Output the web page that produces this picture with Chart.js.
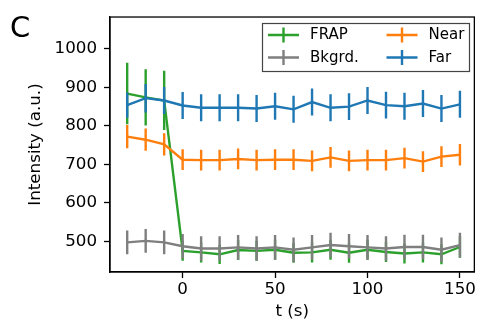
<!DOCTYPE html>
<html>
<head>
<meta charset="utf-8">
<script src="https://cdn.jsdelivr.net/npm/chart.js@4"></script>
<style>
  body { margin: 0; background: #fff; }
  canvas { display: block; }
</style>
</head>
<body>
<canvas id="myChart" width="478" height="329"></canvas>
<script>
// time points (s)
const times = [-30, -20, -10, 0, 10, 20, 30, 40, 50, 60, 70, 80, 90, 100, 110, 120, 130, 140, 150];

const frap = [884, 874, 866, 475, 471, 466, 477, 475, 478, 470, 471, 478, 470, 478, 472, 468, 471, 466, 485];
const frapErr = [80, 73, 77, 26, 26, 25, 26, 26, 26, 26, 26, 26, 26, 26, 26, 26, 26, 26, 28];

const bkgrd = [497, 501, 497, 487, 481, 481, 484, 481, 484, 478, 484, 490, 487, 484, 481, 485, 485, 478, 490];
const bkgrdErr = [31, 31, 31, 32, 32, 32, 32, 32, 32, 32, 32, 32, 32, 32, 32, 32, 32, 32, 32];

const near = [772, 764, 752, 712, 711, 711, 714, 711, 712, 712, 709, 718, 709, 711, 711, 716, 707, 720, 725];
const nearErr = [30, 29, 29, 27, 27, 27, 27, 27, 27, 27, 27, 27, 27, 27, 27, 27, 27, 27, 28];

const far = [854, 872, 866, 853, 847, 847, 847, 845, 851, 843, 862, 847, 850, 866, 854, 851, 858, 845, 856];
const farErr = [33, 37, 35, 35, 35, 35, 35, 35, 35, 35, 35, 35, 35, 35, 35, 35, 35, 35, 35];

const xTicks = [0, 50, 100, 150];
const yTicks = [500, 600, 700, 800, 900, 1000];

const FONT = 'DejaVu Sans';
const LW = 2.4;

function series(label, vals, errs, color) {
  return {
    label: label,
    data: times.map((t, i) => ({ x: t, y: vals[i] })),
    errors: errs,
    borderColor: color,
    backgroundColor: color,
    borderWidth: LW,
    pointRadius: 0,
    tension: 0,
  };
}

// vertical error bars, no caps (drawn with each dataset so stacking matches)
const errorBars = {
  id: 'errorBars',
  afterDatasetDraw(chart, args) {
    const ds = chart.data.datasets[args.index];
    const ctx = chart.ctx;
    const xs = chart.scales.x, ys = chart.scales.y;
    ctx.save();
    ctx.strokeStyle = ds.borderColor;
    ctx.lineWidth = LW;
    ctx.beginPath();
    ds.data.forEach((p, i) => {
      const px = xs.getPixelForValue(p.x);
      ctx.moveTo(px, ys.getPixelForValue(p.y + ds.errors[i]));
      ctx.lineTo(px, ys.getPixelForValue(p.y - ds.errors[i]));
    });
    ctx.stroke();
    ctx.restore();
  }
};

const frame = {
  id: 'frame',
  afterDraw(chart) {
    const ctx = chart.ctx;
    const a = chart.chartArea;
    ctx.save();
    // top and right spines
    ctx.strokeStyle = '#000';
    ctx.lineWidth = 1.3;
    ctx.strokeRect(a.left, a.top, a.right - a.left, a.bottom - a.top);

    // panel letter
    ctx.fillStyle = '#000';
    ctx.font = '29px ' + FONT;
    ctx.textBaseline = 'alphabetic';
    ctx.textAlign = 'left';
    ctx.fillText('C', 10, 37);

    // legend, 2 columns
    const bx = 262.5, by = 23.5, bw = 207, bh = 48;
    ctx.fillStyle = 'rgba(255,255,255,0.9)';
    ctx.fillRect(bx, by, bw, bh);
    ctx.strokeStyle = '#444';
    ctx.lineWidth = 1.2;
    ctx.strokeRect(bx, by, bw, bh);
    const cols = [268, 386.5];
    const rows = [35, 57.5];
    const ds = chart.data.datasets;
    ctx.font = '15px ' + FONT;
    ctx.textBaseline = 'middle';
    ds.forEach((d, n) => {
      const c = Math.floor(n / 2), r = n % 2;
      const x0 = cols[c], y0 = rows[r];
      ctx.strokeStyle = d.borderColor;
      ctx.lineWidth = LW;
      ctx.beginPath();
      ctx.moveTo(x0, y0);
      ctx.lineTo(x0 + 31, y0);
      ctx.moveTo(x0 + 15.5, y0 - 7.5);
      ctx.lineTo(x0 + 15.5, y0 + 7.5);
      ctx.stroke();
      ctx.fillStyle = '#000';
      ctx.fillText(d.label, x0 + 42, y0 + 0.5);
    });
    ctx.restore();
  }
};

const canvas = document.getElementById('myChart');
new Chart(canvas.getContext('2d'), {
  type: 'line',
  data: {
    datasets: [
      Object.assign(series('FRAP', frap, frapErr, '#2ca02c'), { order: 4 }),
      Object.assign(series('Bkgrd.', bkgrd, bkgrdErr, '#7f7f7f'), { order: 3 }),
      Object.assign(series('Near', near, nearErr, '#ff7f0e'), { order: 2 }),
      Object.assign(series('Far', far, farErr, '#1f77b4'), { order: 1 }),
    ],
  },
  options: {
    responsive: false,
    animation: false,
    layout: { padding: { top: 15, right: 3.5, left: 0, bottom: 0 } },
    plugins: {
      legend: { display: false },
      tooltip: { enabled: false },
    },
    scales: {
      x: {
        type: 'linear',
        min: -39.3,
        max: 157.8,
        afterFit: s => { s.height = 57; },
        afterBuildTicks: s => { s.ticks = xTicks.map(v => ({ value: v })); },
        grid: { drawOnChartArea: false, tickLength: 6, tickWidth: 1.3, tickColor: '#000' },
        border: { color: '#000', width: 1.3 },
        ticks: { color: '#000', font: { family: FONT, size: 16.7 }, padding: 2, maxRotation: 0, callback: v => String(v) },
        title: { display: true, text: 't (s)', color: '#000', font: { family: FONT, size: 16.7 }, padding: { bottom: 7 } },
      },
      y: {
        min: 420,
        max: 1083,
        afterFit: s => { s.width = 110; },
        afterBuildTicks: s => { s.ticks = yTicks.map(v => ({ value: v })); },
        grid: { drawOnChartArea: false, tickLength: 6, tickWidth: 1.3, tickColor: '#000' },
        border: { color: '#000', width: 1.3 },
        ticks: { color: '#000', font: { family: FONT, size: 16.7 }, padding: 7, callback: v => String(v) },
        title: { display: true, text: 'Intensity (a.u.)', color: '#000', font: { family: FONT, size: 16.7 }, padding: { top: 26 } },
      },
    },
  },
  plugins: [errorBars, frame],
});
</script>
</body>
</html>
